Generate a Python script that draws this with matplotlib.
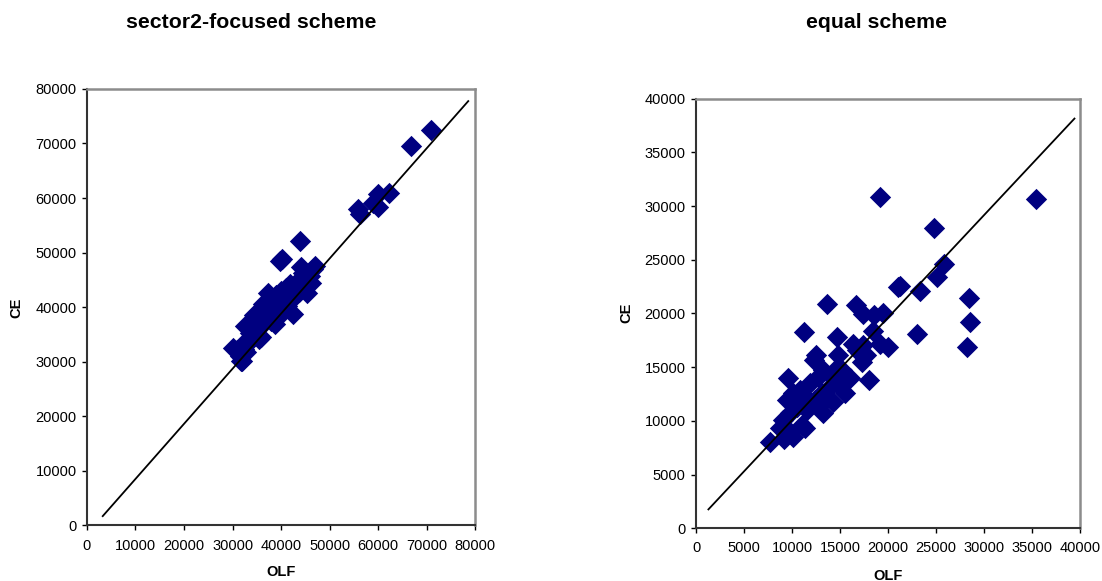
import matplotlib.pyplot as plt

plt.rcParams["font.family"] = ["Liberation Sans", "DejaVu Sans"]

# sector2-focused scheme: (OLF, CE) pairs
s2_olf = [70900, 66700, 62220, 60060, 59900, 58970, 55860, 56300, 43940, 39820,
          40180, 44150, 47050, 45960, 45240, 42350, 37290, 36200, 34400, 32590,
          31150, 30060, 31870, 35480,
          31000, 31500, 31700, 32000, 32300, 32800, 33000, 33500, 33800, 34000,
          34300, 34700, 35000, 35200, 35500, 35800, 36000, 36300, 36500, 36800,
          37000, 37500, 37800, 38000, 38300, 38500, 38700, 39000, 39200, 39500,
          39800, 40000, 40200, 40500, 40800, 41000, 41300, 41500, 41800, 42000,
          42500, 42800, 43000, 43300, 43600, 44000, 44500, 45000, 45500, 46200,
          46500]
s2_ce = [72540, 69490, 61010, 60670, 58290, 59100, 57950, 57070, 52180, 48450,
         48790, 47300, 47570, 45740, 42680, 38750, 42680, 40650, 38480, 36580,
         32170, 32500, 30130, 34200,
         32200, 31000, 30100, 33000, 32400, 31800, 33500, 35200, 34000, 36200,
         35500, 36800, 38000, 36000, 37200, 34500, 38300, 39500, 37400, 40400,
         38600, 39700, 41000, 37500, 40300, 39000, 36900, 42300, 40800, 38400,
         41700, 43000, 39600, 42200, 41000, 43500, 40200, 42500, 44300, 41500,
         43200, 42000, 44500, 43500, 42800, 45000, 46200, 44800, 46000, 44500,
         47000]
s2_fit_x = [3250, 78550]
s2_fit_y = [1700, 77760]

# equal scheme: (OLF, CE) pairs
eq_olf = [19180, 35490, 24840, 25800, 25070, 21260, 21100, 23350, 28440, 28550,
          28260, 13620, 16640, 17370, 18550, 19460, 18480, 11280, 14660, 23000,
          16390, 17440, 19180, 19980, 17090, 17690, 17270, 14830, 12470, 12290,
          14770, 9550, 18030, 16050, 15530, 13260, 12740, 11880, 14310, 13960,
          10140, 10830, 11360, 12400, 13260, 14310, 13100, 14660, 9100, 9790,
          10490, 11530, 8750, 9790, 11360, 9200, 7710, 10140, 11010, 12920,
          11880, 14830, 15180, 16750, 15710, 10490, 9450]
eq_ce = [30870, 30650, 27930, 24580, 23410, 22560, 22450, 22090, 21410, 19170,
         16860, 20850, 20790, 19950, 19860, 20010, 18370, 18250, 17840, 18090,
         17130, 17060, 17130, 16910, 16290, 16130, 15510, 16130, 16130, 15670,
         15040, 13960, 13810, 14020, 12570, 14740, 14110, 13500, 13960, 13180,
         12570, 12870, 12250, 11940, 10710, 11790, 12570, 13500, 10080, 10710,
         11320, 11010, 9310, 8990, 9310, 8280, 8060, 8530, 9620, 11480,
         11790, 14270, 14740, 16600, 13810, 12100, 11940]
eq_fit_x = [1280, 39450]
eq_fit_y = [1760, 38140]

s2_ticks = list(range(0, 80001, 10000))
eq_ticks = list(range(0, 40001, 5000))

NAVY = "#000080"


def draw_panel(ax, olf, ce, fit_x, fit_y, ticks):
    ax.scatter(olf, ce, marker="D", s=118, color=NAVY, linewidths=0, zorder=3)
    ax.plot(fit_x, fit_y, color="black", lw=1.3, zorder=4)
    ax.set_xlim(ticks[0], ticks[-1])
    ax.set_ylim(ticks[0], ticks[-1])
    ax.set_xticks(ticks)
    ax.set_yticks(ticks)
    ax.tick_params(direction="out", length=3.5, width=1, colors="black",
                   labelsize=10.5, pad=4)
    ax.tick_params(axis="x", pad=6)
    for side in ("left", "bottom"):
        ax.spines[side].set_color("#333333")
        ax.spines[side].set_linewidth(1.5)
    for side in ("top", "right"):
        ax.spines[side].set_color("#8c8c8c")
        ax.spines[side].set_linewidth(1.8)


fig = plt.figure(figsize=(11.02, 5.81), dpi=100)

ax1 = fig.add_axes([0.0789, 0.0957, 0.3524, 0.7513])
draw_panel(ax1, s2_olf, s2_ce, s2_fit_x, s2_fit_y, s2_ticks)

ax2 = fig.add_axes([0.6317, 0.0907, 0.3481, 0.7396])
draw_panel(ax2, eq_olf, eq_ce, eq_fit_x, eq_fit_y, eq_ticks)

fig.text(250.7 / 1102, 1 - 22 / 581, "sector2-focused scheme", ha="center",
         va="center", fontsize=15.3, fontweight="bold")
fig.text(876.6 / 1102, 1 - 22 / 581, "equal scheme", ha="center",
         va="center", fontsize=15.3, fontweight="bold")

fig.text(16.7 / 1102, 1 - 307.5 / 581, "CE", rotation=90, ha="center",
         va="center", fontsize=10.5, fontweight="bold")
fig.text(281 / 1102, 1 - 572 / 581, "OLF", ha="center", va="center",
         fontsize=10.5, fontweight="bold")
fig.text(626 / 1102, 1 - 313 / 581, "CE", rotation=90, ha="center",
         va="center", fontsize=10.5, fontweight="bold")
fig.text(888 / 1102, 1 - 576 / 581, "OLF", ha="center", va="center",
         fontsize=10.5, fontweight="bold")

fig.savefig("out.png", dpi=100)
